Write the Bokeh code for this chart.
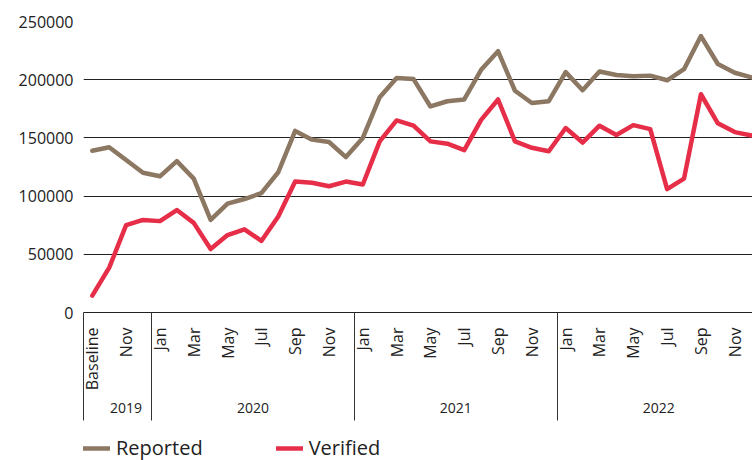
import math
from bokeh.plotting import figure
from bokeh.layouts import column
from bokeh.models import (Range1d, FixedTicker, LinearAxis, Legend, LegendItem,
                          NumeralTickFormatter)
from bokeh.embed import file_html
from bokeh.resources import INLINE

# ---------------- data ----------------
months = (["Baseline", "Oct", "Nov", "Dec"]
          + ["Jan", "Feb", "Mar", "Apr", "May", "Jun", "Jul", "Aug", "Sep", "Oct", "Nov", "Dec"] * 3)
month_year = ["2019"] * 4 + ["2020"] * 12 + ["2021"] * 12 + ["2022"] * 12
years = ["2019", "2020", "2021", "2022"]

reported = [139000, 142000, 131000, 120000, 117000, 130000, 115000, 79500, 93500, 97500,
            102500, 120500, 156000, 148500, 146500, 133500, 150000, 185000, 201500, 200500,
            177000, 181500, 183000, 208500, 224500, 190500, 180000, 181500, 206500, 191000,
            207000, 204000, 203000, 203500, 199500, 209000, 237500, 213500, 206000, 202000]
verified = [14500, 38500, 75000, 79500, 78500, 88000, 77000, 54500, 66500, 71500,
            61500, 82500, 112500, 111500, 108500, 112500, 110000, 147000, 165000, 160500,
            147000, 145000, 139500, 165500, 183000, 147000, 141500, 138500, 158500, 146000,
            160500, 152500, 161000, 157500, 106000, 115000, 187500, 162500, 155000, 152000]
series_names = ["Reported", "Verified"]
y_ticks = [0, 50000, 100000, 150000, 200000, 250000]

# -------------- derived ---------------
x = list(range(len(months)))
label_idx = x[::2]
overrides = {i: months[i] for i in label_idx}
seps = [-0.5] + [i + 0.5 for i in range(len(months) - 1) if month_year[i] != month_year[i + 1]]
year_pos = []
for yv in years:
    idx = [i for i in x if month_year[i] == yv and months[i] != "Baseline"]
    year_pos.append(sum(idx) / len(idx))

FONT = "Open Sans"
TXT = "#222222"
BROWN = "#8C7763"
RED = "#E62E48"
LW = 4.5

p = figure(width=752, height=428, output_backend="svg", toolbar_location=None,
           x_range=Range1d(-0.52, 39.05), y_range=Range1d(0, 250000),
           x_axis_type=None,
           min_border_left=83, min_border_right=0, min_border_top=21, min_border_bottom=116)
p.outline_line_color = None
p.background_fill_color = "white"
p.border_fill_color = "white"

ya = p.yaxis[0]
ya.ticker = FixedTicker(ticks=y_ticks)
ya.formatter = NumeralTickFormatter(format="0")
ya.axis_line_color = None
ya.major_tick_line_color = None
ya.minor_tick_line_color = None
ya.major_tick_out = 0
ya.major_tick_in = 0
ya.major_label_standoff = 10
ya.major_label_text_font = FONT
ya.major_label_text_font_size = "16px"
ya.major_label_text_color = TXT
ya.axis_label = "\u00a0"
ya.axis_label_standoff = 0
ya.axis_label_text_font_size = "10px"

p.ygrid.ticker = FixedTicker(ticks=y_ticks)
p.ygrid.grid_line_color = "#222222"
p.ygrid.grid_line_width = 1

# month axis, year separators drawn as long minor ticks
ma = LinearAxis(ticker=FixedTicker(ticks=label_idx, minor_ticks=seps),
                major_label_overrides=overrides)
ma.major_label_orientation = math.pi / 2
ma.major_tick_in = 0
ma.major_tick_out = 0
ma.minor_tick_in = 0
ma.minor_tick_out = 108
ma.minor_tick_line_color = "#333333"
ma.minor_tick_line_width = 1
ma.axis_line_color = "#222222"
ma.axis_line_width = 1
ma.major_label_standoff = -93
ma.major_label_text_font = FONT
ma.major_label_text_font_size = "16px"
ma.major_label_text_color = TXT
p.add_layout(ma, "below")

# year axis
yr = LinearAxis(ticker=FixedTicker(ticks=year_pos, minor_ticks=[]),
                major_label_overrides={pos: yv for pos, yv in zip(year_pos, years)})
yr.axis_line_color = None
yr.major_tick_line_color = None
yr.minor_tick_line_color = None
yr.major_tick_in = 0
yr.major_tick_out = 0
yr.major_label_standoff = 9
yr.major_label_text_font = FONT
yr.major_label_text_font_size = "14px"
yr.major_label_text_color = TXT
p.add_layout(yr, "below")

p.line(x, reported, line_color=BROWN, line_width=LW, line_join="round", line_cap="round")
p.line(x, verified, line_color=RED, line_width=LW, line_join="round", line_cap="round")

# legend strip below the chart (its own lines fall outside its 0..1 range, so only
# the legend swatches show)
p2 = figure(width=752, height=32, output_backend="svg", toolbar_location=None,
            x_range=Range1d(0, 1), y_range=Range1d(0, 1),
            x_axis_type=None, y_axis_type=None,
            min_border_left=0, min_border_right=0, min_border_top=0, min_border_bottom=0)
p2.outline_line_color = None
p2.background_fill_color = "white"
p2.border_fill_color = "white"
l1 = p2.line(x, reported, line_color=BROWN, line_width=LW, line_cap="round")
l2 = p2.line(x, verified, line_color=RED, line_width=LW, line_cap="round")
legend = Legend(items=[LegendItem(label=series_names[0], renderers=[l1]),
                       LegendItem(label=series_names[1], renderers=[l2])],
                orientation="horizontal", location=(0, -1),
                glyph_width=27, label_standoff=6, spacing=73, padding=0, margin=0,
                border_line_color=None, background_fill_alpha=0,
                label_text_font=FONT, label_text_font_size="20px", label_text_color=TXT)
p2.add_layout(legend)

open("out.html", "w").write(file_html(column(p, p2, spacing=0), INLINE))
